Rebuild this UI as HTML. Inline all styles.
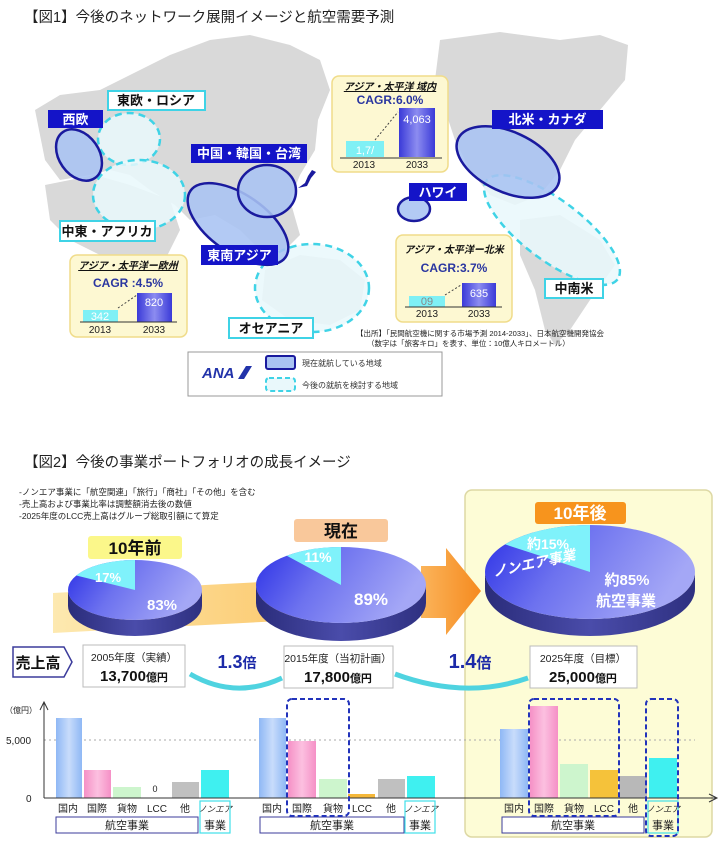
<!DOCTYPE html>
<html><head><meta charset="utf-8"><style>
body{margin:0;background:#fff}
svg{display:block;font-family:"Liberation Sans","Noto Sans CJK JP",sans-serif}
</style></head><body>
<svg width="724" height="847" viewBox="0 0 724 847" xmlns="http://www.w3.org/2000/svg">
<defs>
<linearGradient id="pt" x1="0" y1="0" x2="1" y2="0.3"><stop offset="0" stop-color="#2b30e6"/><stop offset="0.45" stop-color="#6d72ef"/><stop offset="1" stop-color="#a4a7f6"/></linearGradient>
<linearGradient id="ps" x1="0" y1="0" x2="1" y2="0"><stop offset="0" stop-color="#2a2c7a"/><stop offset="0.5" stop-color="#4a4caa"/><stop offset="1" stop-color="#2e3080"/></linearGradient>
<linearGradient id="band" x1="0" y1="0" x2="1" y2="0"><stop offset="0" stop-color="#fde9b0"/><stop offset="1" stop-color="#fbc96e"/></linearGradient>
<linearGradient id="org" x1="0" y1="0" x2="1" y2="0"><stop offset="0" stop-color="#fbb45a"/><stop offset="1" stop-color="#f58a1f"/></linearGradient>
<linearGradient id="bb" x1="0" y1="0" x2="1" y2="0"><stop offset="0" stop-color="#8fb8f5"/><stop offset="0.5" stop-color="#c8dcfb"/><stop offset="1" stop-color="#8fb8f5"/></linearGradient>
<linearGradient id="bp" x1="0" y1="0" x2="1" y2="0"><stop offset="0" stop-color="#f590c6"/><stop offset="0.5" stop-color="#fcc0e0"/><stop offset="1" stop-color="#f590c6"/></linearGradient>
<linearGradient id="bbar" x1="0" y1="0" x2="1" y2="0"><stop offset="0" stop-color="#3a3ad8"/><stop offset="0.5" stop-color="#8c8cf0"/><stop offset="1" stop-color="#3a3ad8"/></linearGradient>
</defs>

<!-- Title 1 -->
<text x="24" y="22" font-size="14.5" fill="#222">【図1】今後のネットワーク展開イメージと航空需要予測</text>

<!-- map gray -->
<g fill="#d9d9d9">
<path d="M35,110 L60,95 L100,90 L140,70 L170,55 L210,40 L250,35 L290,45 L320,60 L330,90 L318,120 L315,150 L300,175 L290,200 L300,235 L285,250 L260,250 L240,230 L215,215 L190,220 L175,205 L150,190 L130,175 L110,170 L90,175 L60,180 L45,160 L40,135 Z"/>
<path d="M45,185 L95,175 L130,185 L170,200 L180,230 L165,260 L150,290 L130,300 L115,285 L100,255 L70,240 L50,220 Z"/>
<path d="M440,40 L500,32 L560,40 L600,35 L628,45 L625,80 L600,110 L575,140 L560,170 L540,195 L515,205 L490,195 L470,170 L455,140 L445,110 L435,80 Z"/>
<path d="M520,220 L560,215 L600,240 L615,265 L590,300 L570,330 L555,345 L545,330 L535,290 L520,255 Z"/>
<path d="M265,270 L300,255 L340,260 L365,280 L360,310 L330,325 L290,320 L262,300 Z"/>
</g>

<!-- dashed regions -->
<g fill="#e9f8fb" fill-opacity="0.85" stroke="#3fd3e6" stroke-width="2.5" stroke-dasharray="7 5">
<ellipse cx="129" cy="139" rx="31" ry="26"/>
<ellipse cx="139" cy="195" rx="46" ry="35"/>
<ellipse cx="312" cy="288" rx="57" ry="44"/>
<ellipse cx="552" cy="230" rx="82" ry="30" transform="rotate(37 552 230)"/>
</g>
<!-- solid regions -->
<g fill="#a9c3f2" fill-opacity="0.88" stroke="#1a1a9e" stroke-width="2.5">
<ellipse cx="79" cy="155" rx="28" ry="20" transform="rotate(55 79 155)"/>
<ellipse cx="238" cy="224" rx="58" ry="29" transform="rotate(35 238 224)"/>
<ellipse cx="267" cy="191" rx="29" ry="26"/>
<ellipse cx="414" cy="209" rx="16" ry="12"/>
<ellipse cx="508" cy="162" rx="55" ry="30" transform="rotate(25 508 162)"/>
</g>
<path d="M298,188 L305,183 L308,176 L312,170 L316,172 L311,178 L307,186 Z" fill="#1a1a9e"/>

<!-- region labels -->
<g font-weight="bold" font-size="13">
<rect x="48" y="110" width="55" height="18" fill="#1414c8"/><text x="75.5" y="124" fill="#fff" text-anchor="middle">西欧</text>
<rect x="108" y="91" width="97" height="19" fill="#fff" stroke="#3fd3e6" stroke-width="2"/><text x="156" y="105" fill="#111" text-anchor="middle">東欧・ロシア</text>
<rect x="191" y="144" width="116" height="19" fill="#1414c8"/><text x="249" y="158" fill="#fff" text-anchor="middle">中国・韓国・台湾</text>
<rect x="60" y="221" width="95" height="20" fill="#fff" stroke="#3fd3e6" stroke-width="2"/><text x="107" y="236" fill="#111" text-anchor="middle">中東・アフリカ</text>
<rect x="201" y="245" width="77" height="20" fill="#1414c8"/><text x="239.5" y="260" fill="#fff" text-anchor="middle">東南アジア</text>
<rect x="229" y="318" width="84" height="20" fill="#fff" stroke="#3fd3e6" stroke-width="2"/><text x="271" y="333" fill="#111" text-anchor="middle">オセアニア</text>
<rect x="409" y="183" width="58" height="18" fill="#1414c8"/><text x="438" y="197" fill="#fff" text-anchor="middle">ハワイ</text>
<rect x="492" y="110" width="111" height="19" fill="#1414c8"/><text x="547.5" y="124" fill="#fff" text-anchor="middle">北米・カナダ</text>
<rect x="545" y="279" width="58" height="19" fill="#fff" stroke="#3fd3e6" stroke-width="2"/><text x="574" y="293" fill="#111" text-anchor="middle">中南米</text>
</g>

<!-- CAGR boxes -->
<g>
<rect x="332" y="76" width="116" height="96" rx="7" fill="#fdf8d2" stroke="#f0dc8a" stroke-width="1.5"/>
<text x="390" y="90" font-size="10" font-weight="bold" font-style="italic" text-anchor="middle" text-decoration="underline" fill="#111">アジア・太平洋 域内</text>
<text x="390" y="104" font-size="12" font-weight="bold" text-anchor="middle" fill="#2a36a0">CAGR:6.0%</text>
<rect x="346" y="141" width="38" height="16" fill="#7ff0f5"/><text x="365" y="154" font-size="11" fill="#fff" text-anchor="middle">1,7/</text>
<rect x="399" y="108" width="36" height="49" fill="url(#bbar)"/><text x="417" y="123" font-size="11" fill="#fff" text-anchor="middle">4,063</text>
<line x1="340" y1="158" x2="442" y2="158" stroke="#333"/>
<line x1="375" y1="140" x2="398" y2="112" stroke="#444" stroke-dasharray="2 2"/>
<text x="364" y="168" font-size="10" text-anchor="middle" fill="#222">2013</text><text x="417" y="168" font-size="10" text-anchor="middle" fill="#222">2033</text>

<rect x="70" y="255" width="117" height="82" rx="7" fill="#fdf8d2" stroke="#f0dc8a" stroke-width="1.5"/>
<text x="128" y="269" font-size="10" font-weight="bold" font-style="italic" text-anchor="middle" text-decoration="underline" fill="#111">アジア・太平洋ー欧州</text>
<text x="128" y="287" font-size="12" font-weight="bold" text-anchor="middle" fill="#2a36a0">CAGR :4.5%</text>
<rect x="83" y="310" width="35" height="12" fill="#7ff0f5"/><text x="100" y="320" font-size="11" fill="#fff" text-anchor="middle">342</text>
<rect x="137" y="293" width="35" height="29" fill="url(#bbar)"/><text x="154" y="306" font-size="11" fill="#fff" text-anchor="middle">820</text>
<line x1="80" y1="322" x2="177" y2="322" stroke="#333"/>
<line x1="118" y1="308" x2="137" y2="295" stroke="#444" stroke-dasharray="2 2"/>
<text x="100" y="333" font-size="10" text-anchor="middle" fill="#222">2013</text><text x="154" y="333" font-size="10" text-anchor="middle" fill="#222">2033</text>

<rect x="396" y="235" width="116" height="87" rx="7" fill="#fdf8d2" stroke="#f0dc8a" stroke-width="1.5"/>
<text x="454" y="253" font-size="10" font-weight="bold" font-style="italic" text-anchor="middle" fill="#111">アジア・太平洋ー北米</text>
<text x="454" y="272" font-size="12" font-weight="bold" text-anchor="middle" fill="#2a36a0">CAGR:3.7%</text>
<rect x="409" y="296" width="36" height="11" fill="#7ff0f5"/><text x="427" y="305" font-size="11" fill="#888" text-anchor="middle">09</text>
<rect x="462" y="283" width="34" height="24" fill="url(#bbar)"/><text x="479" y="297" font-size="11" fill="#fff" text-anchor="middle">635</text>
<line x1="405" y1="307" x2="502" y2="307" stroke="#333"/>
<line x1="445" y1="295" x2="461" y2="285" stroke="#444" stroke-dasharray="2 2"/>
<text x="427" y="317" font-size="10" text-anchor="middle" fill="#222">2013</text><text x="479" y="317" font-size="10" text-anchor="middle" fill="#222">2033</text>
</g>
<text x="356" y="336" font-size="7.5" fill="#222">【出所】「民間航空機に関する市場予測 2014-2033」、日本航空機開発協会</text>
<text x="367" y="346" font-size="7.5" fill="#222">（数字は「旅客キロ」を表す、単位：10億人キロメートル）</text>

<!-- legend -->
<rect x="188" y="352" width="254" height="44" fill="#fff" stroke="#999"/>
<text x="202" y="378" font-size="15" font-weight="bold" font-style="italic" fill="#2233aa">ANA</text>
<path d="M238,379 L246,366 L252,366 L244,379 Z" fill="#2233aa"/>
<rect x="266" y="356" width="29" height="13" rx="2" fill="#a9c3f2" stroke="#1a1a9e" stroke-width="2"/>
<rect x="266" y="378" width="29" height="13" rx="3" fill="#e9f8fb" stroke="#3fd3e6" stroke-width="2" stroke-dasharray="5 3"/>
<text x="302" y="366" font-size="8" fill="#333">現在就航している地域</text>
<text x="302" y="388" font-size="8" fill="#333">今後の就航を検討する地域</text>

<!-- Section 2 -->
<text x="24" y="467" font-size="14.5" fill="#222">【図2】今後の事業ポートフォリオの成長イメージ</text>
<rect x="465" y="490" width="247" height="347" rx="7" fill="#fdfcd6" stroke="#ddd8a4" stroke-width="1.5"/>
<g font-size="8.5" fill="#222">
<text x="19" y="495">-ノンエア事業に「航空関連」「旅行」「商社」「その他」を含む</text>
<text x="19" y="507">-売上高および事業比率は調整額消去後の数値</text>
<text x="19" y="519">-2025年度のLCC売上高はグループ総取引額にて算定</text>
</g>

<!-- band and arrow -->
<path d="M53,593 L300,580 L300,620 L53,633 Z" fill="url(#band)"/>
<path d="M421,566 L446,566 L446,548 L481,591 L446,635 L446,618 L421,618 Z" fill="url(#org)"/>

<!-- pies -->
<g>
<path d="M68,590 A67,30 0 0 0 202,590 L202,606 A67,30 0 0 1 68,606 Z" fill="url(#ps)"/>
<ellipse cx="135" cy="590" rx="67" ry="30" fill="url(#pt)"/>
<path d="M135,590 L135,560 A67,30 0 0 0 76.3,575.5 Z" fill="#7ff2fb"/>
<text x="108" y="582" font-size="13" font-weight="bold" fill="#fff" text-anchor="middle">17%</text>
<text x="162" y="610" font-size="15" font-weight="bold" fill="#fff" text-anchor="middle">83%</text>

<path d="M256,585 A85,38 0 0 0 426,585 L426,603 A85,38 0 0 1 256,603 Z" fill="url(#ps)"/>
<ellipse cx="341" cy="585" rx="85" ry="38" fill="url(#pt)"/>
<path d="M341,585 L341,547 A85,38 0 0 0 286.8,555.7 Z" fill="#7ff2fb"/>
<text x="318" y="562" font-size="14" font-weight="bold" fill="#fff" text-anchor="middle">11%</text>
<text x="371" y="605" font-size="17" font-weight="bold" fill="#fff" text-anchor="middle">89%</text>

<path d="M485,572 A105,47 0 0 0 695,572 L695,589 A105,47 0 0 1 485,589 Z" fill="url(#ps)"/>
<ellipse cx="590" cy="572" rx="105" ry="47" fill="url(#pt)"/>
<path d="M590,572 L590,525 A105,47 0 0 0 505.1,544.4 Z" fill="#7ff2fb"/>
<text x="548" y="549" font-size="14" font-weight="bold" fill="#fff" text-anchor="middle">約15%</text>
<text x="535" y="568" font-size="14" font-weight="bold" font-style="italic" fill="#fff" text-anchor="middle" transform="rotate(-12 535 568)">ノンエア事業</text>
<text x="627" y="585" font-size="15" font-weight="bold" fill="#fff" text-anchor="middle">約85%</text>
<text x="626" y="606" font-size="15" font-weight="bold" fill="#fff" text-anchor="middle">航空事業</text>
</g>

<!-- period labels -->
<rect x="88" y="536" width="94" height="23" rx="3" fill="#fbf78a"/>
<text x="135" y="554" font-size="17" font-weight="bold" fill="#111" text-anchor="middle">10年前</text>
<rect x="294" y="519" width="94" height="23" rx="3" fill="#f9c89b"/>
<text x="341" y="537" font-size="17" font-weight="bold" fill="#111" text-anchor="middle">現在</text>
<rect x="535" y="502" width="91" height="22" rx="3" fill="#f7941d"/>
<text x="580" y="519" font-size="17" font-weight="bold" fill="#fff" text-anchor="middle">10年後</text>

<!-- sales row -->
<path d="M13,647 L64,647 L72,662 L64,677 L13,677 Z" fill="#fff" stroke="#3b3b9b" stroke-width="1.5"/>
<text x="38" y="668" font-size="15" font-weight="bold" fill="#111" text-anchor="middle">売上高</text>
<path d="M190,674 Q235,700 282,678" fill="none" stroke="#4fd3e0" stroke-width="5"/>
<path d="M395,674 Q465,700 528,678" fill="none" stroke="#4fd3e0" stroke-width="5"/>
<g>
<rect x="83" y="645" width="102" height="42" fill="#fff" stroke="#bbb"/>
<text x="134" y="661" font-size="10.5" text-anchor="middle" fill="#222">2005年度（実績）</text>
<text x="134" y="681" font-size="15" font-weight="bold" text-anchor="middle" fill="#111">13,700<tspan font-size="11">億円</tspan></text>
<rect x="284" y="646" width="109" height="42" fill="#fff" stroke="#bbb"/>
<text x="338" y="662" font-size="10.5" text-anchor="middle" fill="#222">2015年度（当初計画）</text>
<text x="338" y="682" font-size="15" font-weight="bold" text-anchor="middle" fill="#111">17,800<tspan font-size="11">億円</tspan></text>
<rect x="530" y="646" width="107" height="42" fill="#fff" stroke="#bbb"/>
<text x="583" y="662" font-size="10.5" text-anchor="middle" fill="#222">2025年度（目標）</text>
<text x="583" y="682" font-size="15" font-weight="bold" text-anchor="middle" fill="#111">25,000<tspan font-size="11">億円</tspan></text>
</g>
<text x="237" y="668" font-size="18" font-weight="bold" fill="#1c2aa8" text-anchor="middle">1.3<tspan font-size="14">倍</tspan></text>
<text x="470" y="668" font-size="20" font-weight="bold" fill="#1c2aa8" text-anchor="middle">1.4<tspan font-size="15">倍</tspan></text>

<!-- chart -->
<line x1="44" y1="740" x2="695" y2="740" stroke="#aaa" stroke-dasharray="2 3"/>
<text x="5" y="713" font-size="8" fill="#222">（億円）</text>
<text x="6" y="744" font-size="10" fill="#222">5,000</text>
<text x="26" y="802" font-size="10" fill="#222">0</text>
<g>
<rect x="56" y="718" width="26" height="80" fill="url(#bb)"/>
<rect x="84" y="770" width="27" height="28" fill="url(#bp)"/>
<rect x="113" y="787" width="28" height="11" fill="#cdf5cd"/>
<text x="155" y="792" font-size="9" fill="#222" text-anchor="middle">0</text>
<rect x="172" y="782" width="27" height="16" fill="#c0c0c0"/>
<rect x="201" y="770" width="28" height="28" fill="#3ff0f0"/>

<rect x="259" y="718" width="27" height="80" fill="url(#bb)"/>
<rect x="288" y="741" width="28" height="57" fill="url(#bp)"/>
<rect x="319" y="779" width="28" height="19" fill="#cdf5cd"/>
<rect x="348" y="794" width="27" height="4" fill="#f5b83a"/>
<rect x="378" y="779" width="27" height="19" fill="#c0c0c0"/>
<rect x="407" y="776" width="28" height="22" fill="#3ff0f0"/>

<rect x="500" y="729" width="28" height="69" fill="url(#bb)"/>
<rect x="530" y="706" width="28" height="92" fill="url(#bp)"/>
<rect x="560" y="764" width="28" height="34" fill="#cdf5cd"/>
<rect x="590" y="770" width="28" height="28" fill="#f5c23a"/>
<rect x="619" y="776" width="28" height="22" fill="#b8b8b8"/>
<rect x="649" y="758" width="28" height="40" fill="#3ff0f0"/>
</g>
<line x1="44" y1="798" x2="716" y2="798" stroke="#333"/>
<path d="M709,794 L717,798 L709,802" fill="none" stroke="#333"/>
<line x1="44" y1="798" x2="44" y2="703" stroke="#333"/>
<path d="M40,710 L44,702 L48,710" fill="none" stroke="#333"/>

<g font-size="10" fill="#222" text-anchor="middle">
<text x="68" y="812">国内</text><text x="97" y="812">国際</text><text x="127" y="812">貨物</text><text x="157" y="812">LCC</text><text x="185" y="812">他</text>
<text x="272" y="812">国内</text><text x="302" y="812">国際</text><text x="333" y="812">貨物</text><text x="362" y="812">LCC</text><text x="391" y="812">他</text>
<text x="514" y="812">国内</text><text x="544" y="812">国際</text><text x="574" y="812">貨物</text><text x="604" y="812">LCC</text><text x="633" y="812">他</text>
</g>
<g font-size="8.5" fill="#222" text-anchor="middle" font-style="italic">
<text x="215" y="812">ノンエア</text><text x="421" y="812">ノンエア</text><text x="663" y="812">ノンエア</text>
</g>
<g fill="#fff" stroke="#3b3b9b" stroke-width="1">
<rect x="56" y="817" width="142" height="16"/>
<rect x="260" y="817" width="144" height="16"/>
<rect x="502" y="817" width="142" height="16"/>
</g>
<g fill="none" stroke="#40e0e8" stroke-width="1.2">
<rect x="200" y="801" width="30" height="32"/>
<rect x="405" y="801" width="30" height="32"/>
<rect x="648" y="801" width="30" height="32"/>
</g>
<g font-size="11" fill="#222" text-anchor="middle">
<text x="127" y="829">航空事業</text><text x="332" y="829">航空事業</text><text x="573" y="829">航空事業</text>
<text x="215" y="829">事業</text><text x="420" y="829">事業</text><text x="663" y="829">事業</text>
</g>
<g fill="none" stroke="#2233bb" stroke-width="2" stroke-dasharray="5 3">
<rect x="287" y="699" width="62" height="117" rx="5"/>
<rect x="529" y="699" width="90" height="117" rx="5"/>
<rect x="646" y="699" width="32" height="137" rx="5"/>
</g>
</svg>
</body></html>
